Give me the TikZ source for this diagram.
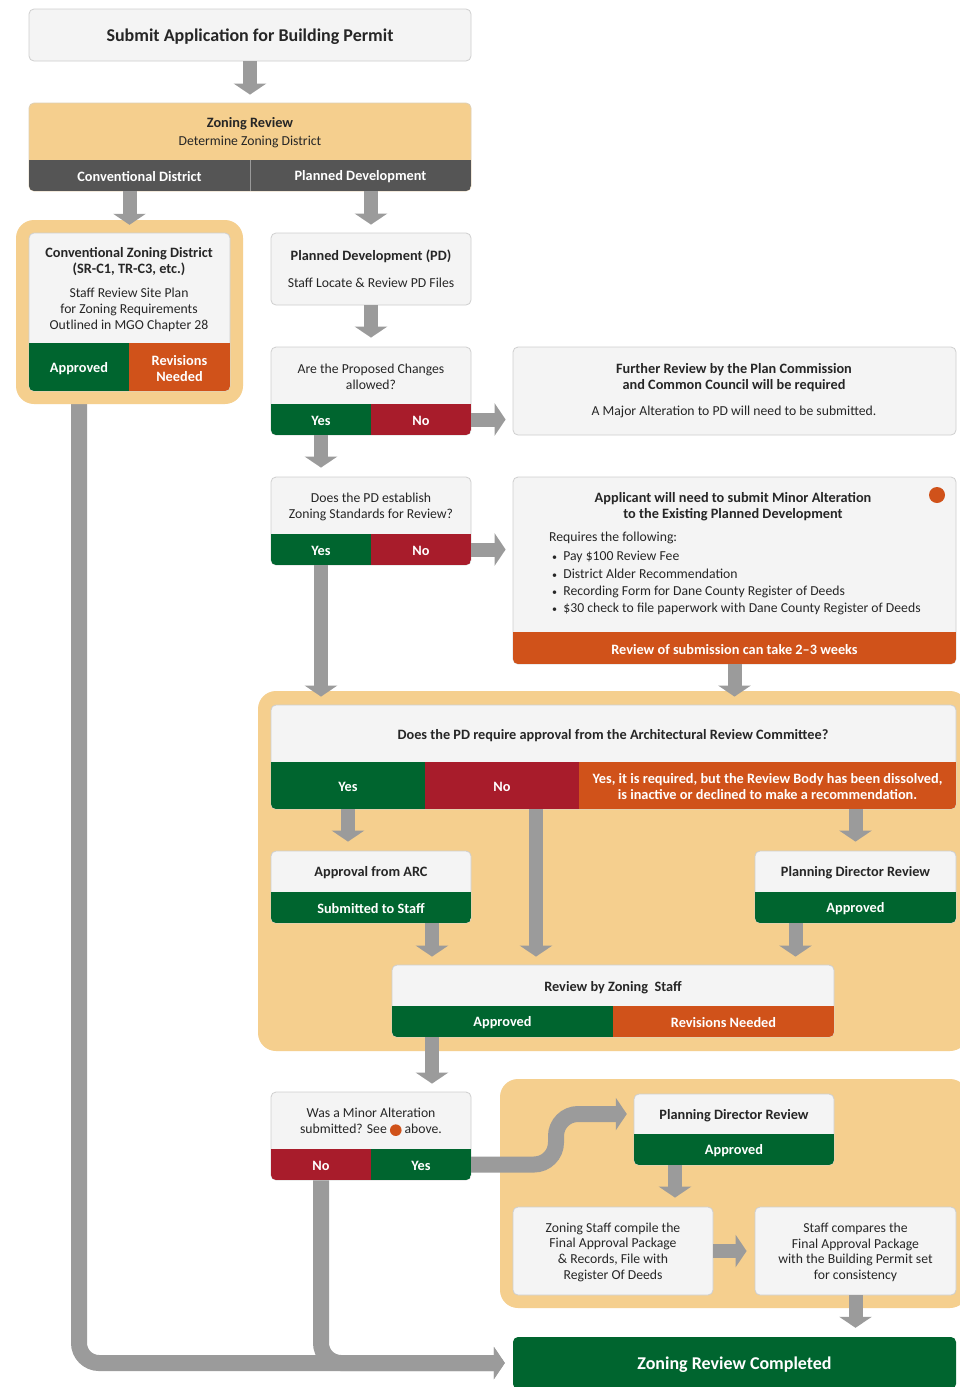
\documentclass[tikz,border=0pt]{standalone}
\usepackage{fontspec}
\setmainfont{Carlito}
\usetikzlibrary{fit,arrows.meta}
\definecolor{tanC}{HTML}{F5CF8E}
\definecolor{grnC}{HTML}{00652F}
\definecolor{redC}{HTML}{A81C2B}
\definecolor{orgC}{HTML}{D0521A}
\definecolor{darkC}{HTML}{555555}
\definecolor{boxC}{HTML}{F4F4F4}
\definecolor{lineC}{HTML}{CFCFCF}
\definecolor{arrC}{HTML}{9B9B9B}
\pgfdeclarelayer{bg}\pgfdeclarelayer{frm}\pgfsetlayers{bg,frm,main}
\newcommand\bx[6]{\node[fit={(#2,#3) (#4,#5)}, inner sep=0pt, #6] (#1) {};}
\newcommand\orgdot{\tikz[baseline=-3.8pt]\fill[orgC] (0,0) circle (5.8pt);}
\newcommand\bul{{\fontsize{10}{10}\selectfont•}\ \ }
\begin{document}
\begin{tikzpicture}[x=1pt,y=-1pt,
  pbox/.style={fill=boxC, draw=lineC, line width=0.8pt, rounded corners=5pt},
  frame/.style={fill=tanC, rounded corners=18pt},
  garrow/.style={draw=arrC, line width=14pt, -{Triangle[width=32pt,length=11pt]}},
  t/.style={font=\fontsize{13.7}{16}\selectfont, align=center, inner sep=0pt, text=black!85, yshift=-1.2pt},
  tb/.style={t, font=\fontsize{14.3}{16}\selectfont\bfseries},
  tw/.style={tb, text=white}]
\useasboundingbox (0,0) rectangle (960,1387);

% ---- Submit
\bx{submit}{29}{9}{471}{61}{pbox}
\node[tb, font=\fontsize{18}{20}\selectfont\bfseries] (submitt) at (submit) {Submit Application for Building Permit};

% ---- Zoning review
\bx{zr}{29}{103}{471}{191}{fill=tanC, draw=lineC!60!tanC, line width=0.8pt, rounded corners=5pt}
\begin{scope}
\clip[rounded corners=5pt] (29,103) rectangle (471,191);
\bx{zrc}{29}{160}{250}{191}{fill=darkC}
\bx{zrp}{250}{160}{471}{191}{fill=darkC}
\end{scope}
\draw[gray!80, line width=1pt] (zrc.north east) -- (zrc.south east);
\node[tb] (zrt) at (250,122) {Zoning Review};
\node[t] (zrs) at (250,141) {Determine Zoning District};
\node[tw] (zrct) at (zrc) {Conventional District};
\node[tw] (zrpt) at (zrp) {Planned Development};

% ---- Conventional zoning district
\bx{cc}{29}{233}{230}{391}{pbox}
\begin{scope}
\clip[rounded corners=5pt] (29,233) rectangle (230,391);
\bx{ccapp}{29}{343}{129}{391}{fill=grnC}
\bx{ccrev}{129}{343}{230}{391}{fill=orgC}
\end{scope}
\node[tb] (cct) at (129,260) {Conventional Zoning District\\(SR-C1, TR-C3, etc.)};
\node[t] (ccs) at (129,309) {Staff Review Site Plan\\for Zoning Requirements\\Outlined in MGO Chapter 28};
\node[tw] (ccappt) at (ccapp) {Approved};
\node[tw] (ccrevt) at (ccrev) {Revisions\\Needed};

% ---- PD
\bx{pd}{271}{233}{471}{305}{pbox}
\node[tb] (pdt) at (371,255) {Planned Development (PD)};
\node[t] (pds) at (371,282) {Staff Locate \& Review PD Files};

% ---- Q1
\bx{q1}{271}{347}{471}{435}{pbox}
\begin{scope}
\clip[rounded corners=5pt] (271,347) rectangle (471,435);
\bx{q1yes}{271}{404}{371}{435}{fill=grnC}
\bx{q1no}{371}{404}{471}{435}{fill=redC}
\end{scope}
\node[t] (q1t) at (371,376) {Are the Proposed Changes\\allowed?};
\node[tw] (q1yt) at (q1yes) {Yes};
\node[tw] (q1nt) at (q1no) {No};

% ---- Further review
\bx{further}{513}{347}{956}{435}{pbox}
\node[tb] (furt) at (734,376) {Further Review by the Plan Commission\\and Common Council will be required};
\node[t] (furs) at (734,411) {A Major Alteration to PD will need to be submitted.};

% ---- Q2
\bx{q2}{271}{477}{471}{565}{pbox}
\begin{scope}
\clip[rounded corners=5pt] (271,477) rectangle (471,565);
\bx{q2yes}{271}{534}{371}{565}{fill=grnC}
\bx{q2no}{371}{534}{471}{565}{fill=redC}
\end{scope}
\node[t] (q2t) at (371,506) {Does the PD establish\\Zoning Standards for Review?};
\node[tw] (q2yt) at (q2yes) {Yes};
\node[tw] (q2nt) at (q2no) {No};

% ---- Minor alteration
\bx{minor}{513}{477}{956}{664}{pbox}
\begin{scope}
\clip[rounded corners=5pt] (513,477) rectangle (956,664);
\bx{minorbar}{513}{632}{956}{664}{fill=orgC}
\end{scope}
\fill[orgC] (937,495) circle (8pt);
\node[tb] (minort) at (733,505) {Applicant will need to submit Minor Alteration\\to the Existing Planned Development};
\node[t, anchor=west] (minorr) at (549,537) {Requires the following:};
\node[t, anchor=west] (mb1) at (552,556) {\bul Pay \$100 Review Fee};
\node[t, anchor=west] (mb2) at (552,573) {\bul District Alder Recommendation};
\node[t, anchor=west] (mb3) at (552,591) {\bul Recording Form for Dane County Register of Deeds};
\node[t, anchor=west] (mb4) at (552,608) {\bul \$30 check to file paperwork with Dane County Register of Deeds};
\node[tw] (minorbt) at (minorbar) {Review of submission can take 2–3 weeks};

% ---- ARC question
\bx{arcq}{271}{705}{956}{809}{pbox}
\begin{scope}
\clip[rounded corners=5pt] (271,705) rectangle (956,809);
\bx{arcyes}{271}{762}{425}{809}{fill=grnC}
\bx{arcno}{425}{762}{579}{809}{fill=redC}
\bx{arcor}{579}{762}{956}{809}{fill=orgC}
\end{scope}
\node[tb] (arct) at (613,734) {Does the PD require approval from the Architectural Review Committee?};
\node[tw] (arcyt) at (arcyes) {Yes};
\node[tw] (arcnt) at (arcno) {No};
\node[tw] (arcot) at (arcor) {Yes, it is required, but the Review Body has been dissolved,\\is inactive or declined to make a recommendation.};

% ---- Approval from ARC
\bx{arcappr}{271}{851}{471}{923}{pbox}
\begin{scope}
\clip[rounded corners=5pt] (271,851) rectangle (471,923);
\bx{arcapb}{271}{892}{471}{923}{fill=grnC}
\end{scope}
\node[tb] (arcat) at (371,871) {Approval from ARC};
\node[tw] (arcabt) at (arcapb) {Submitted to Staff};

% ---- Planning director review 1
\bx{pdr1}{755}{851}{956}{923}{pbox}
\begin{scope}
\clip[rounded corners=5pt] (755,851) rectangle (956,923);
\bx{pdr1b}{755}{892}{956}{923}{fill=grnC}
\end{scope}
\node[tb] (pdr1t) at (855.5,871) {Planning Director Review};
\node[tw] (pdr1bt) at (pdr1b) {Approved};

% ---- Review by zoning staff
\bx{rzs}{392}{965}{834}{1037}{pbox}
\begin{scope}
\clip[rounded corners=5pt] (392,965) rectangle (834,1037);
\bx{rzsapp}{392}{1006}{613}{1037}{fill=grnC}
\bx{rzsrev}{613}{1006}{834}{1037}{fill=orgC}
\end{scope}
\node[tb] (rzst) at (613,986) {Review by Zoning\ \ Staff};
\node[tw] (rzsat) at (rzsapp) {Approved};
\node[tw] (rzsrt) at (rzsrev) {Revisions Needed};

% ---- Minor question
\bx{minq}{271}{1092}{471}{1180}{pbox}
\begin{scope}
\clip[rounded corners=5pt] (271,1092) rectangle (471,1180);
\bx{minno}{271}{1149}{371}{1180}{fill=redC}
\bx{minyes}{371}{1149}{471}{1180}{fill=grnC}
\end{scope}
\node[t] (minqt) at (371,1121) {Was a Minor Alteration\\submitted? See \orgdot\ above.};
\node[tw] (minnt) at (minno) {No};
\node[tw] (minyt) at (minyes) {Yes};

% ---- Planning director review 2
\bx{pdr2}{634}{1094}{834}{1165}{pbox}
\begin{scope}
\clip[rounded corners=5pt] (634,1094) rectangle (834,1165);
\bx{pdr2b}{634}{1134}{834}{1165}{fill=grnC}
\end{scope}
\bx{pdr2t}{634}{1094}{834}{1134}{}
\node[tb] (pdr2tt) at (pdr2t) {Planning Director Review};
\node[tw] (pdr2bt) at (pdr2b) {Approved};

% ---- Compile & compare
\bx{zsc}{513}{1207}{713}{1295}{pbox}
\node[t, font=\fontsize{13.7}{15.6}\selectfont] (zsct) at (zsc) {Zoning Staff compile the\\Final Approval Package\\\& Records, File with\\Register Of Deeds};
\bx{sc}{755}{1207}{956}{1295}{pbox}
\node[t, font=\fontsize{13.7}{15.6}\selectfont] (sct) at (sc) {Staff compares the\\Final Approval Package\\with the Building Permit set\\for consistency};

% ---- Completed
\bx{done}{513}{1337}{956}{1389}{fill=grnC, rounded corners=5pt}
\node[tw, font=\fontsize{18}{20}\selectfont\bfseries] (donet) at (done) {Zoning Review Completed};

% ---- Frames
\begin{pgfonlayer}{frm}
\bx{ccframe}{16}{220}{243}{404}{frame}
\bx{arcframe}{258}{691}{968}{1051}{frame}
\bx{botframe}{500}{1079}{968}{1308}{frame}
\end{pgfonlayer}

% ---- Arrows
\draw[garrow, shorten >=8pt] (submit.south) -- (zr.north);
\draw[garrow] (ccframe.north |- zr.south) -- ([yshift=-5pt]ccframe.north);
\draw[garrow, shorten >=8pt] (pd.north |- zr.south) -- (pd.north);
\draw[garrow, shorten >=9pt] (pd.south) -- (q1.north);
\draw[garrow, shorten >=7pt] (q1no.east) -- (further.west |- q1no.east);
\draw[garrow, shorten >=9pt] (q1yes.south) -- (q1yes.south |- q2.north);
\draw[garrow, shorten >=7pt] (q2no.east) -- (minor.west |- q2no.east);
\draw[garrow, shorten >=8pt] (q2yes.south) -- (q2yes.south |- arcq.north);
\draw[garrow, shorten >=8pt] (minor.south) -- (minor.south |- arcq.north);
\draw[garrow, shorten >=9pt] (arcyes.south) -- (arcyes.south |- arcappr.north);
\draw[garrow, shorten >=8pt] ([xshift=34pt]arcno.south) -- ([xshift=34pt]arcno.south |- rzs.north);
\draw[garrow, shorten >=9pt] (pdr1.north |- arcor.south) -- (pdr1.north);
\draw[garrow, shorten >=8pt] ([xshift=61pt]arcappr.south) -- ([xshift=61pt]arcappr.south |- rzs.north);
\draw[garrow, shorten >=8pt] ([xshift=-60pt]pdr1.south) -- ([xshift=-60pt]pdr1.south |- rzs.north);
\draw[garrow, shorten >=8pt] ([xshift=61pt]minq.north |- rzs.south) -- ([xshift=61pt]minq.north);
\draw[garrow, line width=16pt, rounded corners=22pt, shorten >=7pt] (minyes.east) -- (556,1164.5) -- (556,1114) -- (pdr2t.west);
\draw[garrow, shorten >=9pt] ([xshift=-59pt]pdr2.south) -- ([xshift=-59pt]pdr2.south |- zsc.north);
\draw[garrow, shorten >=8pt] (zsc.east) -- (sc.west);
\draw[garrow, shorten >=9pt] (sc.south) -- (sc.south |- done.north);
\begin{pgfonlayer}{bg}
\fill[white] (0,0) rectangle (960,1387);
\draw[garrow, line width=16pt, rounded corners=20pt, shorten >=8pt] (ccapp.south) -- (ccapp.south |- done.west) -- (done.west);
\draw[garrow, line width=16pt, rounded corners=20pt, shorten >=8pt] (minno.south) |- (done.west);
\end{pgfonlayer}
\end{tikzpicture}
\end{document}
